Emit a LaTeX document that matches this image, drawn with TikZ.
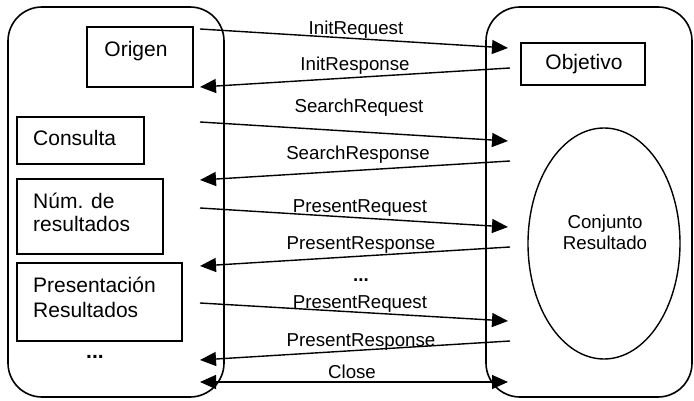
\documentclass[tikz,border=0pt]{standalone}
\usepackage{fontspec}
\setmainfont{Liberation Sans}
\usetikzlibrary{arrows.meta,shapes.geometric}

\begin{document}
\begin{tikzpicture}[x=1pt,y=-1pt,
  panel/.style={draw, line width=1.6pt, rounded corners=34pt, inner sep=0pt},
  item/.style={draw, line width=1.4pt, inner sep=0pt},
  boxtxt/.style={font=\fontsize{21}{24}\selectfont, anchor=base west, inner sep=0pt, align=left},
  msg/.style={font=\fontsize{18.7}{21}\selectfont, anchor=base, inner sep=0pt},
  flow/.style={line width=1.4pt, -{Triangle[length=16pt,width=14pt]}},
  both/.style={line width=1.4pt, {Triangle[length=16pt,width=14pt]}-{Triangle[length=16pt,width=14pt]}},
]
\useasboundingbox (0,0) rectangle (694,401);

% the two parties
\node[panel, minimum width=216pt, minimum height=390pt] (origin) at (116,202) {};
\node[panel, minimum width=206pt, minimum height=390pt] (target) at (589,202) {};

% client side elements
\node[item, minimum width=106pt, minimum height=60pt] (origbox) at (140,57) {};
\node[boxtxt, anchor=base] (origtxt) at (136,57) {Origen};
\node[item, minimum width=127pt, minimum height=47pt] (query) at (80.5,140.5) {};
\node[boxtxt] (querytxt) at (33,146) {Consulta};
\node[item, minimum width=146pt, minimum height=75pt] (count) at (90,216.5) {};
\node[boxtxt] (counttxt1) at (33,208) {Núm. de};
\node[boxtxt] (counttxt2) at (33,232) {resultados};
\node[item, minimum width=165pt, minimum height=78pt] (present) at (99.5,302) {};
\node[boxtxt] (presenttxt1) at (33,292) {Presentación};
\node[boxtxt] (presenttxt2) at (33,317) {Resultados};
\node[boxtxt, anchor=base, font=\fontsize{21}{24}\selectfont\bfseries] (moreleft) at (95,358) {...};

% server side elements
\node[item, minimum width=124pt, minimum height=42pt] (objbox) at (583,64) {};
\node[boxtxt, anchor=base] (objtxt) at (584,70) {Objetivo};
\node[draw, ellipse, line width=1.4pt, minimum width=152pt, minimum height=231pt] (resultset) at (604,243.5) {};
\node[msg] (rstxt1) at (605,229) {Conjunto};
\node[msg] (rstxt2) at (605,250) {Resultado};

% message end points
\coordinate (l1) at (200,29);  \coordinate (r1) at (508,48);
\coordinate (r2) at (510,68);  \coordinate (l2) at (200,87);
\coordinate (l3) at (200,122); \coordinate (r3) at (508,141);
\coordinate (r4) at (510,161); \coordinate (l4) at (200,180);
\coordinate (l5) at (200,208); \coordinate (r5) at (508,227);
\coordinate (r6) at (510,247); \coordinate (l6) at (200,266);
\coordinate (l7) at (200,303); \coordinate (r7) at (508,321);
\coordinate (r8) at (510,341); \coordinate (l8) at (200,360);
\coordinate (l9) at (200,382); \coordinate (r9) at (508,382);

% messages
\draw[flow] (l1) -- (r1);
\draw[flow] (r2) -- (l2);
\draw[flow] (l3) -- (r3);
\draw[flow] (r4) -- (l4);
\draw[flow] (l5) -- (r5);
\draw[flow] (r6) -- (l6);
\draw[flow] (l7) -- (r7);
\draw[flow] (r8) -- (l8);
\draw[both] (l9) -- (r9);

% message labels
\node[msg] (m1) at (356,35) {InitRequest};
\node[msg] (m2) at (355,71) {InitResponse};
\node[msg] (m3) at (359,113) {SearchRequest};
\node[msg] (m4) at (358,160) {SearchResponse};
\node[msg] (m5) at (360,213) {PresentRequest};
\node[msg] (m6) at (361,250) {PresentResponse};
\node[msg, font=\fontsize{18.7}{21}\selectfont\bfseries] (mdots) at (361,281) {...};
\node[msg] (m7) at (360,308) {PresentRequest};
\node[msg] (m8) at (361,346) {PresentResponse};
\node[msg] (m9) at (352,378) {Close};
\end{tikzpicture}
\end{document}
